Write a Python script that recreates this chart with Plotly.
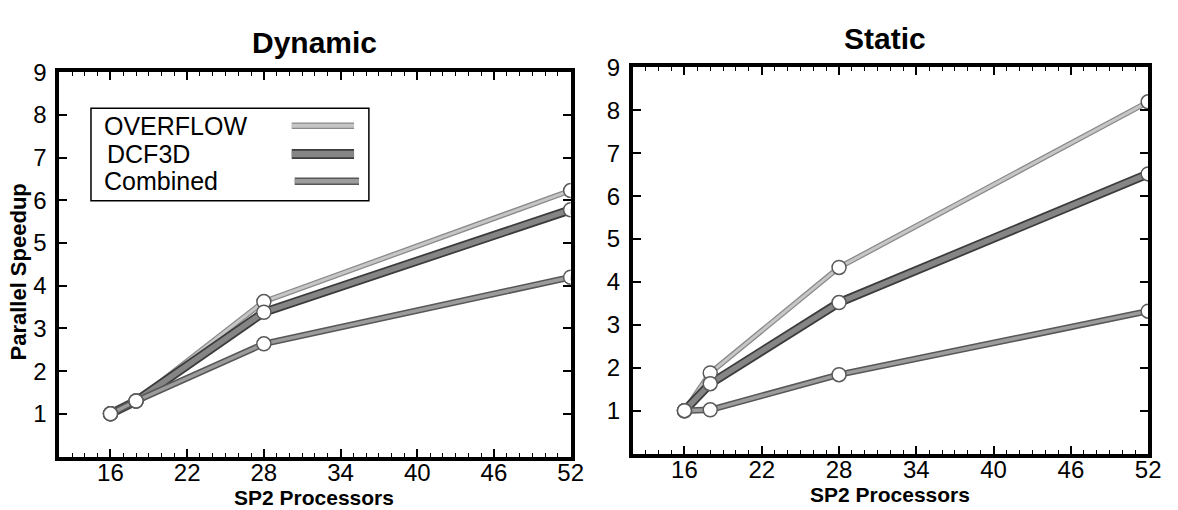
import plotly.graph_objects as go

# ---------------- data ----------------
processors = [16, 18, 28, 52]

dyn_overflow = [1.0, 1.3, 3.63, 6.23]
dyn_dcf3d = [1.0, 1.3, 3.38, 5.78]
dyn_combined = [1.0, 1.3, 2.64, 4.2]

sta_overflow = [1.0, 1.88, 4.34, 8.2]
sta_dcf3d = [1.0, 1.63, 3.52, 6.52]
sta_combined = [1.0, 1.02, 1.84, 3.32]

series_names = ["OVERFLOW", "DCF3D", "Combined"]
x_tick_vals = [16, 22, 28, 34, 40, 46, 52]
y_tick_vals = [1, 2, 3, 4, 5, 6, 7, 8, 9]
panel_titles = ["Dynamic", "Static"]
x_title = "SP2 Processors"
y_title = "Parallel Speedup"

# ---------------- styles ----------------
FONT = "Liberation Sans, Arial, Helvetica, sans-serif"
W, H = 1178, 510
styles = {
    "OVERFLOW": dict(outer="#8a8a8a", ow=5.5, inner="#c6c6c6", iw=3),
    "DCF3D": dict(outer="#3c3c3c", ow=9, inner="#858585", iw=5.5),
    "Combined": dict(outer="#575757", ow=6.5, inner="#9c9c9c", iw=3.5),
}

fig = go.Figure()

panels = [
    ("x", "y", [dyn_overflow, dyn_dcf3d, dyn_combined]),
    ("x2", "y2", [sta_overflow, sta_dcf3d, sta_combined]),
]

for xa, ya, series in panels:
    for name, vals in zip(series_names, series):
        st = styles[name]
        fig.add_trace(go.Scatter(x=processors, y=vals, mode="lines", xaxis=xa, yaxis=ya,
                                 line=dict(color=st["outer"], width=st["ow"]),
                                 showlegend=False, hoverinfo="skip"))
        fig.add_trace(go.Scatter(x=processors, y=vals, mode="lines", xaxis=xa, yaxis=ya,
                                 line=dict(color=st["inner"], width=st["iw"]),
                                 name=name, showlegend=False))
    for name, vals in zip(series_names, series):
        fig.add_trace(go.Scatter(x=processors, y=vals, mode="markers", xaxis=xa, yaxis=ya,
                                 marker=dict(size=14, color="white",
                                             line=dict(color="#5a5a5a", width=1.5)),
                                 showlegend=False, hoverinfo="skip"))

def px_x(v):
    return v / W

def px_y(v):
    return 1 - v / H

axis_common = dict(
    showline=True, linewidth=4, linecolor="black", mirror="ticks",
    ticks="inside", ticklen=8, tickwidth=1.5, tickcolor="black",
    showgrid=False, zeroline=False,
    tickfont=dict(family=FONT, size=24, color="black"),
)

xaxis_common = dict(axis_common, range=[12, 52], tickvals=x_tick_vals,
                    ticklabelstandoff=-8,
                    minor=dict(dtick=1, tick0=12, ticks="inside", ticklen=4,
                               tickwidth=1.2, tickcolor="black"))
yaxis_common = dict(axis_common, range=[0, 9], tickvals=y_tick_vals,
                    ticklabelstandoff=4)

fig.update_layout(
    width=W, height=H,
    margin=dict(l=0, r=0, t=0, b=0),
    paper_bgcolor="white", plot_bgcolor="white",
    showlegend=False,
    xaxis=dict(xaxis_common, domain=[px_x(60), px_x(577)], anchor="y"),
    yaxis=dict(yaxis_common, domain=[px_y(455), px_y(60)], anchor="x"),
    xaxis2=dict(xaxis_common, domain=[px_x(640), px_x(1161)], anchor="y2"),
    yaxis2=dict(yaxis_common, domain=[px_y(452), px_y(55)], anchor="x2"),
)

annotations = [
    dict(text="<b>" + panel_titles[0] + "</b>", x=px_x(318), y=px_y(29)),
    dict(text="<b>" + panel_titles[1] + "</b>", x=px_x(895), y=px_y(25)),
]
for a in annotations:
    a.update(xref="paper", yref="paper", showarrow=False, xanchor="center", yanchor="middle",
             font=dict(family=FONT, size=30, color="black"))

for cx, cy in [(318, 497), (900, 494)]:
    annotations.append(dict(text="<b>" + x_title + "</b>", x=px_x(cx), y=px_y(cy),
                            xref="paper", yref="paper", showarrow=False,
                            xanchor="center", yanchor="middle",
                            font=dict(family=FONT, size=21, color="black")))
annotations.append(dict(text="<b>" + y_title + "</b>", x=px_x(19), y=px_y(265),
                        xref="paper", yref="paper", showarrow=False, textangle=-90,
                        xanchor="center", yanchor="middle",
                        font=dict(family=FONT, size=22, color="black")))

# legend (text on left, line sample on right)
legend_rows = [(103, 115, 295, 358), (106, 144, 295, 358), (103, 172, 298, 363)]
shapes = [dict(type="rect", xref="paper", yref="paper",
               x0=px_x(92), x1=px_x(373), y0=px_y(192), y1=px_y(97),
               line=dict(color="black", width=1.5), fillcolor="white", layer="above")]
for name, (tx, ty, lx0, lx1) in zip(series_names, legend_rows):
    annotations.append(dict(text=name, x=px_x(tx), y=px_y(ty), xref="paper", yref="paper",
                            showarrow=False, xanchor="left", yanchor="middle",
                            font=dict(family=FONT, size=25, color="black")))
    st = styles[name]
    for col, wd in [(st["outer"], st["ow"] + 1), (st["inner"], st["iw"] + 1)]:
        shapes.append(dict(type="line", xref="paper", yref="paper",
                           x0=px_x(lx0), x1=px_x(lx1), y0=px_y(ty), y1=px_y(ty),
                           line=dict(color=col, width=wd), layer="above"))

fig.update_layout(annotations=annotations, shapes=shapes)

fig.write_html("out.html")
